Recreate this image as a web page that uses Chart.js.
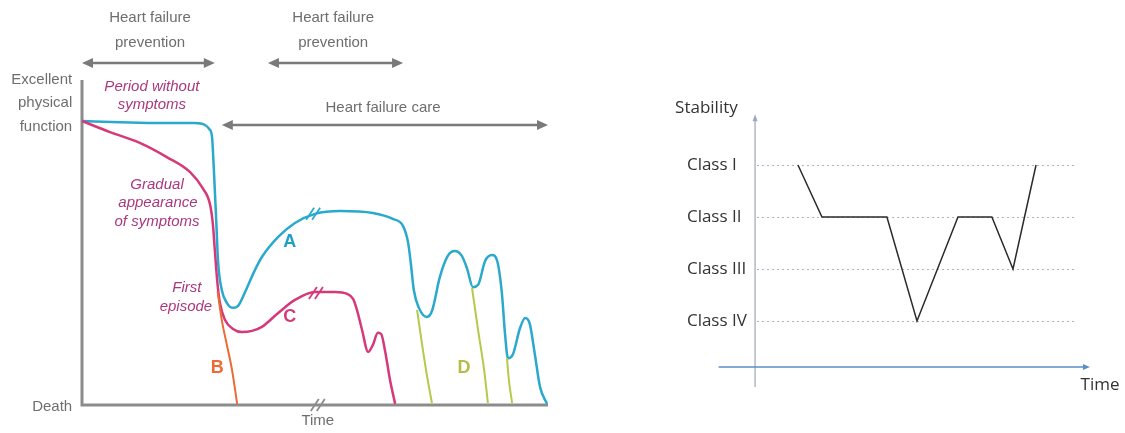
<!DOCTYPE html>
<html>
<head>
<meta charset="utf-8">
<title>Heart failure progression</title>
<script src="https://cdn.jsdelivr.net/npm/chart.js@4.4.0/dist/chart.umd.min.js"></script>
<style>
    html, body { margin: 0; padding: 0; background: #fff; }
    #wrap { position: relative; width: 1125px; height: 433px; }
    #leftBox { position: absolute; left: 0; top: 0; width: 600px; height: 433px; }
    #rightBox { position: absolute; left: 600px; top: 0; width: 525px; height: 433px; }
</style>
</head>
<body>
<div id="wrap">
    <div id="leftBox"><canvas id="progressionChart"></canvas></div>
    <div id="rightBox"><canvas id="stabilityChart"></canvas></div>
</div>
<script>
// left chart: time 0-100, physical function 0 (death) - 100 (excellent)
const curveA = [[0,100],[8.2,99.6],[16.7,99.3],[24.2,99.3],[26.4,98.6],[27.3,97.2],[27.9,94.4],[28.3,82.7],
    [28.8,65.1],[29.2,50.4],[30.0,40.5],[31.1,35.9],[32.4,34.2],[33.5,34.9],[35.0,39.8],[36.9,46.8],[38.6,52.1],
    [42.1,59.2],[45.7,64.1],[50.0,67.3],[55.4,68.3],[62.4,67.6],[66.7,65.5],[68.9,63.0],[70.0,57.0],[70.6,49.3],
    [71.2,40.5],[72.3,34.2],[74.0,31.0],[75.1,33.1],[76.8,45.1],[78.5,52.5],[80.0,54.2],[81.5,52.5],[82.6,48.2],
    [83.9,41.5],[85.0,42.3],[86.5,50.7],[88.0,52.8],[89.1,50.7],[90.1,39.4],[90.8,24.6],[91.4,16.5],[92.5,18.0],
    [94.0,27.1],[95.1,30.6],[96.1,28.5],[97.2,17.6],[98.3,6.3],[99.8,0.4]];
const curveC = [[0,100],[6.0,96.1],[12.4,92.3],[18.2,87.3],[23.2,82.0],[26.0,76.1],[27.5,70.4],[28.1,63.4],
    [28.5,54.6],[29.0,44.0],[29.6,35.9],[30.7,29.9],[32.4,26.8],[34.3,25.7],[36.5,26.1],[38.6,27.5],[42.1,32.4],
    [45.7,37.0],[50.0,39.8],[54.3,39.8],[56.9,39.1],[58.2,37.3],[59.0,33.5],[60.1,26.4],[61.4,18.7],[62.4,21.1],
    [63.5,25.4],[64.2,25.0],[65.0,19.4],[66.1,8.8],[67.2,0.4]];
const curveB = [[29.1,40.0],[30.0,29.9],[31.1,21.1],[32.2,12.3],[33.3,0.4]];
const curveD1 = [[71.9,33.5],[73.0,21.1],[74.0,10.6],[75.1,0.7]];
const curveD2 = [[83.7,41.2],[85.0,26.4],[86.3,12.3],[87.1,0.7]];
const curveD3 = [[91.2,16.5],[91.6,8.8],[92.3,0.7]];
const breakMarks = [[49.6,67.3,'#2aa9cc'],[50.2,39.4,'#d6397a'],[50.6,0,'#8c8c8c']];

// right chart
const stabilityTime = [12.8, 20.3, 40.6, 50, 62.8, 73.4, 80, 87.2];
const stabilityClass = [1, 2, 2, 4, 2, 2, 3, 1];
const classLabels = ['Class I', 'Class II', 'Class III', 'Class IV'];

const toXY = pts => pts.map(p => ({ x: p[0], y: p[1] }));

function curve(pts, color, width) {
    return {
        data: toXY(pts),
        borderColor: color,
        borderWidth: width || 2.5,
        pointRadius: 0,
        cubicInterpolationMode: 'monotone',
        clip: false,
        fill: false
    };
}

function arrowHead(ctx, x, y, dir, len, half) {
    ctx.beginPath();
    ctx.moveTo(x, y);
    ctx.lineTo(x - dir * len, y - half);
    ctx.lineTo(x - dir * len, y + half);
    ctx.closePath();
    ctx.fill();
}

function doubleArrow(ctx, x1, x2, y) {
    ctx.strokeStyle = '#7a7a7a';
    ctx.fillStyle = '#7a7a7a';
    ctx.lineWidth = 2.5;
    ctx.beginPath();
    ctx.moveTo(x1 + 6, y);
    ctx.lineTo(x2 - 6, y);
    ctx.stroke();
    arrowHead(ctx, x1, y, -1, 11, 5);
    arrowHead(ctx, x2, y, 1, 11, 5);
}

const progressionDecor = {
    id: 'progressionDecor',
    beforeDatasetsDraw(chart) {
        const { ctx, scales: { x, y } } = chart;
        ctx.save();
        ctx.strokeStyle = '#8c8c8c';
        ctx.lineWidth = 3;
        ctx.beginPath();
        ctx.moveTo(x.getPixelForValue(0), y.getPixelForValue(114.4));
        ctx.lineTo(x.getPixelForValue(0), y.getPixelForValue(0));
        ctx.lineTo(x.getPixelForValue(100), y.getPixelForValue(0));
        ctx.stroke();

        doubleArrow(ctx, x.getPixelForValue(0), x.getPixelForValue(28.5), y.getPixelForValue(120.4));
        doubleArrow(ctx, x.getPixelForValue(39.9), x.getPixelForValue(68.9), y.getPixelForValue(120.4));
        doubleArrow(ctx, x.getPixelForValue(30.0), x.getPixelForValue(100), y.getPixelForValue(98.6));
        ctx.restore();
    },
    afterDatasetsDraw(chart) {
        const { ctx, scales: { x, y } } = chart;
        ctx.save();
        ctx.textBaseline = 'middle';

        const put = (text, t, f, font, color, align) => {
            ctx.font = font;
            ctx.fillStyle = color;
            ctx.textAlign = align || 'center';
            ctx.fillText(text, x.getPixelForValue(t), y.getPixelForValue(f));
        };
        const grey = '#6e6e6e';
        const plain = '15px "Liberation Sans", Arial, sans-serif';
        const italic = 'italic 15px "Liberation Sans", Arial, sans-serif';
        const bold = 'bold 18px "Liberation Sans", Arial, sans-serif';
        const purple = '#a9387f';

        put('Heart failure', 14.6, 136.3, plain, grey);
        put('prevention', 14.6, 127.5, plain, grey);
        put('Heart failure', 53.9, 136.3, plain, grey);
        put('prevention', 53.9, 127.5, plain, grey);
        put('Heart failure care', 64.6, 104.6, plain, grey);
        put('Excellent', -2.1, 114.4, plain, grey, 'right');
        put('physical', -2.1, 106.3, plain, grey, 'right');
        put('function', -2.1, 97.9, plain, grey, 'right');
        put('Death', -2.1, -0.7, plain, grey, 'right');
        put('Time', 50.6, -5.6, plain, grey);

        put('Period without', 15.0, 112.0, italic, purple);
        put('symptoms', 15.0, 105.6, italic, purple);
        put('Gradual', 16.1, 77.5, italic, purple);
        put('appearance', 16.3, 71.1, italic, purple);
        put('of symptoms', 16.1, 64.4, italic, purple);
        put('First', 22.5, 41.2, italic, purple);
        put('episode', 22.3, 34.5, italic, purple);

        put('A', 44.6, 57.4, bold, '#1f9fc6');
        put('C', 44.6, 31.0, bold, '#d6397a');
        put('B', 29.0, 13.0, bold, '#ec6a36');
        put('D', 82.0, 13.0, bold, '#b4bd45');

        breakMarks.forEach(m => {
            const cx = x.getPixelForValue(m[0]);
            const cy = y.getPixelForValue(m[1]);
            ctx.strokeStyle = m[2];
            ctx.lineWidth = 1.8;
            [-3, 3].forEach(off => {
                ctx.beginPath();
                ctx.moveTo(cx + off - 4, cy + 6);
                ctx.lineTo(cx + off + 4, cy - 6);
                ctx.stroke();
            });
        });
        ctx.restore();
    }
};

new Chart(document.getElementById('progressionChart').getContext('2d'), {
    type: 'line',
    data: {
        datasets: [
            curve(curveD1, '#b5c94a', 2),
            curve(curveD2, '#b5c94a', 2),
            curve(curveD3, '#b5c94a', 2),
            curve(curveB, '#ec6a36', 2),
            curve(curveC, '#d6397a'),
            curve(curveA, '#2aa9cc')
        ]
    },
    options: {
        responsive: true,
        maintainAspectRatio: false,
        animation: false,
        layout: { padding: { left: 82, right: 52, top: 121, bottom: 28 } },
        plugins: { legend: { display: false }, tooltip: { enabled: false } },
        scales: {
            x: { type: 'linear', min: 0, max: 100, display: false },
            y: { type: 'linear', min: 0, max: 100, display: false }
        }
    },
    plugins: [progressionDecor]
});

const stabilityDecor = {
    id: 'stabilityDecor',
    beforeDatasetsDraw(chart) {
        const { ctx, scales: { x, y } } = chart;
        ctx.save();
        // class guide lines
        ctx.strokeStyle = '#a9b4c2';
        ctx.lineWidth = 1;
        ctx.setLineDash([2, 3]);
        classLabels.forEach((label, i) => {
            const yy = Math.round(y.getPixelForValue(i + 1)) + 0.5;
            ctx.beginPath();
            ctx.moveTo(x.getPixelForValue(0), yy);
            ctx.lineTo(x.getPixelForValue(100), yy);
            ctx.stroke();
        });
        ctx.setLineDash([]);

        // axes
        ctx.strokeStyle = '#9aa8b8';
        ctx.fillStyle = '#9aa8b8';
        ctx.lineWidth = 1.2;
        const ax = x.getPixelForValue(-0.6);
        ctx.beginPath();
        ctx.moveTo(ax, y.getPixelForValue(0.1));
        ctx.lineTo(ax, y.getPixelForValue(5.27));
        ctx.stroke();
        ctx.beginPath();
        ctx.moveTo(ax, y.getPixelForValue(0.1) - 4);
        ctx.lineTo(ax - 2.5, y.getPixelForValue(0.1) + 3);
        ctx.lineTo(ax + 2.5, y.getPixelForValue(0.1) + 3);
        ctx.closePath();
        ctx.fill();

        ctx.strokeStyle = '#5b8ec4';
        ctx.fillStyle = '#5b8ec4';
        ctx.lineWidth = 1.5;
        const ay = y.getPixelForValue(4.885);
        ctx.beginPath();
        ctx.moveTo(x.getPixelForValue(-12), ay);
        ctx.lineTo(x.getPixelForValue(103.1), ay);
        ctx.stroke();
        arrowHead(ctx, x.getPixelForValue(103.1) + 3, ay, 1, 7, 3);

        // labels
        ctx.fillStyle = '#333';
        ctx.textBaseline = 'middle';
        ctx.textAlign = 'left';
        ctx.font = '17px "Open Sans", sans-serif';
        classLabels.forEach((label, i) => {
            ctx.fillText(label, x.getPixelForValue(-21.9), y.getPixelForValue(i + 1));
        });
        ctx.fillText('Stability', x.getPixelForValue(-25.6), y.getPixelForValue(-0.1));
        ctx.textAlign = 'center';
        ctx.fillText('Time', x.getPixelForValue(107.2), y.getPixelForValue(5.23));
        ctx.restore();
    }
};

new Chart(document.getElementById('stabilityChart').getContext('2d'), {
    type: 'line',
    data: {
        datasets: [{
            data: stabilityTime.map((t, i) => ({ x: t, y: stabilityClass[i] })),
            borderColor: '#2b2b2b',
            borderWidth: 1.5,
            pointRadius: 0,
            tension: 0,
            clip: false
        }]
    },
    options: {
        responsive: true,
        maintainAspectRatio: false,
        animation: false,
        layout: { padding: { left: 157, right: 48, top: 113, bottom: 60 } },
        plugins: { legend: { display: false }, tooltip: { enabled: false } },
        scales: {
            x: { type: 'linear', min: 0, max: 100, display: false },
            y: { type: 'linear', min: 0, max: 5, reverse: true, display: false }
        }
    },
    plugins: [stabilityDecor]
});
</script>
</body>
</html>
